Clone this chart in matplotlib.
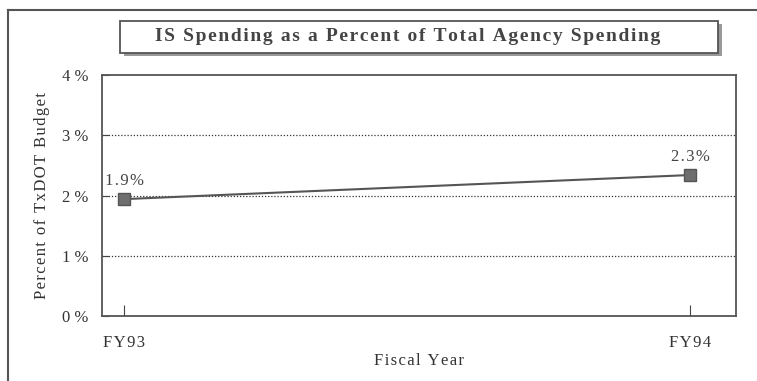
import matplotlib.pyplot as plt
from matplotlib.patches import Rectangle
from matplotlib.lines import Line2D

# data
years = ["FY93", "FY94"]
pct = [1.94, 2.34]
pct_labels = ["1.9%", "2.3%"]
yticks = [0, 1, 2, 3, 4]
ytick_labels = ["0 %", "1 %", "2 %", "3 %", "4 %"]

plt.rcParams['font.family'] = ['Liberation Serif', 'DejaVu Serif']


def spaced(s):
    # old chart used wide letter spacing
    return "\u200a".join(s)


fig = plt.figure(figsize=(7.57, 3.81), dpi=100)
ax = fig.add_axes([0.1347, 0.1706, 0.8376, 0.6325])

x = list(range(len(years)))
ax.plot(x, pct, color="#555555", lw=1.5, marker="s", markersize=9,
        markerfacecolor="#6e6e6e", markeredgecolor="#555555", zorder=3)

for xi, yi, lab in zip(x, pct, pct_labels):
    ax.text(xi, yi + 0.17, spaced(lab), ha="center", va="bottom", fontsize=12,
            color="#444444")

ax.set_xlim(-0.039, 1.081)
ax.set_ylim(0, 4)
ax.set_xticks(x)
ax.set_xticklabels([spaced(t) for t in years], fontsize=12, color="#333333")
ax.set_yticks(yticks)
ax.set_yticklabels(ytick_labels, fontsize=12, color="#333333")
ax.tick_params(axis="y", direction="in", length=5, pad=10, color="#444444")
ax.tick_params(axis="x", direction="in", length=8, pad=14, color="#444444")

for y in yticks[1:-1]:
    ax.axhline(y, color="#333333", lw=0.9, ls=(0, (1, 1.5)), zorder=1)

for s in ax.spines.values():
    s.set_color("#555555")
    s.set_linewidth(1.3)

ax.set_xlabel(spaced("Fiscal Year"), fontsize=12, color="#333333", labelpad=1)
ax.set_ylabel(spaced("Percent of TxDOT Budget"), fontsize=12, color="#333333", labelpad=8)

# title box with shadow
bx, by, bw, bh = 0.1585, 0.8609, 0.790, 0.084
fig.patches.append(Rectangle((bx + 0.005, by - 0.008), bw, bh, transform=fig.transFigure,
                             facecolor="#999999", edgecolor="none", zorder=1))
fig.patches.append(Rectangle((bx, by), bw, bh, transform=fig.transFigure,
                             facecolor="white", edgecolor="#555555", lw=1.3, zorder=2))
fig.text(0.538, by + bh / 2, spaced("IS Spending as a Percent of Total Agency Spending"),
         ha="center", va="center", fontsize=14, fontweight="bold", color="#444444", zorder=3)

# outer frame
fig.add_artist(Line2D([0.0106, 0.0106], [0.0, 0.974], transform=fig.transFigure,
                      color="#555555", lw=1.5))
fig.add_artist(Line2D([0.0106, 1.0], [0.974, 0.974], transform=fig.transFigure,
                      color="#555555", lw=1.5))

fig.savefig("out.png", dpi=100)
